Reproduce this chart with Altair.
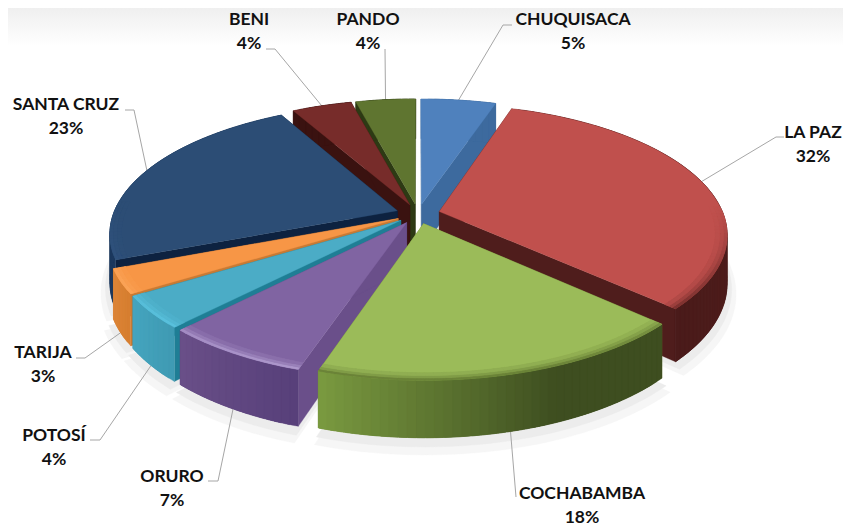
import math
import altair as alt

# ---- data ----
names = ["CHUQUISACA", "LA PAZ", "COCHABAMBA", "ORURO", "POTOSÍ", "TARIJA", "SANTA CRUZ", "BENI", "PANDO"]
shares = [5, 32, 18, 7, 4, 3, 23, 4, 4]
top_colors = ["#4f81bd", "#c0504d", "#9bbb59", "#8064a2", "#4bacc6", "#f79646", "#2c4d75", "#772c2a", "#5f7530"]
cut_colors = ["#3d6a9e", "#4f1d1c", "#6f8a3a", "#6a4f8a", "#1f7e95", "#c87a34", "#0d2240", "#3a1210", "#2d3a14"]
wall_left = ["#3d6a9e", "#5a2321", "#7a9a40", "#6a4f88", "#45a5bf", "#dc8436", "#1d3a5e", "#3a1210", "#2d3a14"]
wall_right = ["#3d6a9e", "#4a1b1a", "#3e4e20", "#57407a", "#3f9ab3", "#d67e30", "#1d3a5e", "#3a1210", "#2d3a14"]
bevel_colors = ["#5b8dca", "#4f1d1c", "#5f7530", "#b8a4d6", "#62cdea", "#ffb36b", "#35598a", "#772c2a", "#5f7530"]
draw_order = ["PANDO", "BENI", "CHUQUISACA", "SANTA CRUZ", "LA PAZ", "TARIJA", "POTOSÍ", "ORURO", "COCHABAMBA"]

# ---- layout of the tilted pie ----
W, H = 835, 519
M = 8
CX, CY, R, TILT, PERSP, DEPTH, EXPLODE = 418, 214, 284, 0.445, 0.17, 47, 22 / 284
# label layout: (elbow, text end of leader, label centre), page pixels
label_layout = {
    "CHUQUISACA": ((503, 25), (512, 25), (573, 20), False),
    "LA PAZ": ((776, 137), (784, 137), (813, 133), False),
    "COCHABAMBA": ((516, 497), (516, 497), (582, 494), True),
    "ORURO": ((218, 481), (208, 481), (172, 477), True),
    "POTOSÍ": ((100, 440), (90, 440), (54, 436), True),
    "TARIJA": ((85, 358), (76, 358), (43, 353), True),
    "SANTA CRUZ": ((134, 110), (125, 110), (66, 105), False),
    "BENI": ((275, 49), (266, 49), (249, 20), False),
    "PANDO": ((385, 49), (385, 49), (368, 20), False),
}


def project(x, y, z=0.0):
    s = 1 / (1 - PERSP * y)
    return [CX + R * x * s, CY + R * TILT * y * s + z * s]


def mix(a, b, f):
    ca = [int(a[i:i + 2], 16) for i in (1, 3, 5)]
    cb = [int(b[i:i + 2], 16) for i in (1, 3, 5)]
    return "#" + "".join(f"{round(p + (q - p) * f):02x}" for p, q in zip(ca, cb))


def poly(pts, fill):
    ring = [[round(a, 2), round(b, 2)] for a, b in pts]
    ring.append(ring[0])
    return {"type": "Feature", "properties": {"fill": fill},
            "geometry": {"type": "Polygon", "coordinates": [ring]}}


total = sum(shares)
spans = {}
acc = 0
for n, v in zip(names, shares):
    spans[n] = (acc / total * 2 * math.pi, (acc + v) / total * 2 * math.pi)
    acc += v


def disc(a, r, ox, oy):
    return ox + r * math.sin(a), oy - r * math.cos(a)


features, shadows, leaders, labels = [], [], [], []
for n in draw_order:
    i = names.index(n)
    a0, a1 = spans[n]
    mid = (a0 + a1) / 2
    ox, oy = EXPLODE * math.sin(mid), -EXPLODE * math.cos(mid)
    steps = max(3, int((a1 - a0) / math.radians(1.5)))
    angles = [a0 + (a1 - a0) * k / steps for k in range(steps + 1)]

    # soft shadow on the page
    for grow, dz, shade in ((1.03, DEPTH + 9, "#f6f6f6"), (1.015, DEPTH + 5, "#ececec")):
        outer = [project(*disc(a, grow, ox, oy), dz) for a in angles]
        shadows.append(poly([project(ox, oy, dz)] + outer, shade))

    # cut faces
    for a in (a0, a1):
        x, y = disc(a, 1, ox, oy)
        features.append(poly([project(ox, oy), project(x, y), project(x, y, DEPTH), project(ox, oy, DEPTH)], cut_colors[i]))

    # outer wall, shaded along the rim; each strip runs under the next one
    for k in range(steps):
        f = (k + 0.5) / steps
        if n == "COCHABAMBA":
            f = min(1, (1 - f) * 1.6)
        elif n in ("ORURO", "POTOSÍ", "TARIJA"):
            f = 1 - f
        col = mix(wall_left[i], wall_right[i], f)
        arc = [angles[k] + (min(angles[k + 1] + 0.05, a1) - angles[k]) * t / 5 for t in range(6)]
        upper = [project(*disc(a, 1, ox, oy)) for a in arc]
        lower = [project(*disc(a, 1, ox, oy), DEPTH) for a in reversed(arc)]
        features.append(poly(upper + lower, col))

    # top face, then a bevelled rim that only shows toward the viewer
    outer = [project(*disc(a, 1.0, ox, oy)) for a in angles]
    features.append(poly([project(ox, oy)] + outer, top_colors[i]))
    for r0, r1, strength in ((1.0, 0.988, 0.8), (0.988, 0.975, 0.45), (0.975, 0.96, 0.18)):
        for k in range(steps):
            am = (angles[k] + angles[k + 1]) / 2
            front = max(0.0, min(1.0, -math.cos(am) + 0.05))
            if front <= 0:
                continue
            col = mix(top_colors[i], bevel_colors[i], strength * front)
            end = min(angles[k + 1] + 0.03, a1)
            arc = [angles[k] + (end - angles[k]) * t / 4 for t in range(5)]
            features.append(poly([project(*disc(a, r0, ox, oy)) for a in arc]
                                 + [project(*disc(a, r1, ox, oy)) for a in reversed(arc)], col))

    # leader and labels
    elbow, end, centre, front = label_layout[n]
    sx, sy = disc(mid, 1, ox, oy)
    start = project(sx, sy, DEPTH if front else 0)
    leaders.append({"type": "Feature", "properties": {"name": n},
                    "geometry": {"type": "LineString", "coordinates": [start, list(elbow), list(end)]}})
    labels.append({"text": n, "x": centre[0], "y": centre[1]})
    labels.append({"text": f"{shares[i]}%", "x": centre[0], "y": centre[1] + 24})


def geo(values):
    return alt.InlineData(values={"type": "FeatureCollection", "features": values},
                          format=alt.DataFormat(property="features", type="json"))


def projected(chart):
    return chart.project(type="identity", scale=1, translate=[-M, -M])


backdrop = alt.Chart(alt.InlineData(values=[{"a": 0}])).mark_rect(
    color=alt.Gradient(gradient="linear", x1=0, x2=0, y1=0, y2=1,
                       stops=[alt.GradientStop(color="#efefef", offset=0),
                              alt.GradientStop(color="#ffffff", offset=1)])
).encode(x=alt.value(0), x2=alt.value(W), y=alt.value(0), y2=alt.value(38))

fill_enc = dict(fill=alt.Fill("properties.fill:N", scale=None, legend=None),
                stroke=alt.Stroke("properties.fill:N", scale=None, legend=None))

shadow_layer = projected(alt.Chart(geo(shadows)).mark_geoshape(strokeWidth=0.4).encode(**fill_enc))
pie_layer = projected(alt.Chart(geo(features)).mark_geoshape(strokeWidth=0.3).encode(**fill_enc))
leader_layer = projected(alt.Chart(geo(leaders)).mark_geoshape(filled=False, stroke="#a6a6a6", strokeWidth=1))

text_layer = alt.Chart(alt.InlineData(values=labels)).mark_text(
    font="Lato", fontWeight="bold", fontSize=17.5, color="#111111", align="center", baseline="middle"
).encode(
    x=alt.X("x:Q", scale=alt.Scale(domain=[M, M + W], nice=False, zero=False), axis=None),
    y=alt.Y("y:Q", scale=alt.Scale(domain=[M + H, M], nice=False, zero=False), axis=None),
    text="text:N",
)

chart = alt.layer(backdrop, shadow_layer, leader_layer, pie_layer, text_layer).properties(
    width=W, height=H, padding=0, autosize=alt.AutoSizeParams(type="none"),
    background="white"
).configure_view(stroke=None)

chart.save("out.html", embed_options={"renderer": "svg", "actions": False})
